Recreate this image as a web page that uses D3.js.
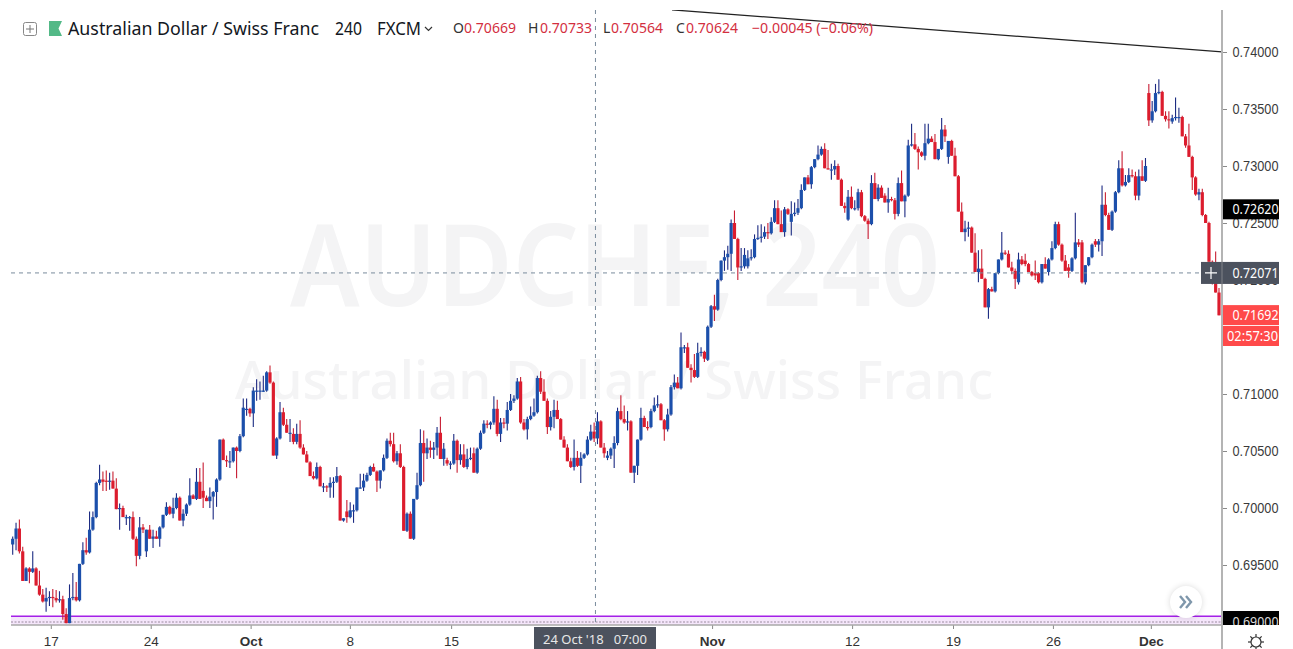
<!DOCTYPE html>
<html><head><meta charset="utf-8">
<style>html,body{margin:0;padding:0;background:#fff;overflow:hidden}svg{display:block;font-family:"Noto Sans",sans-serif}</style>
<script src="https://cdn.jsdelivr.net/npm/d3@7/dist/d3.min.js"></script>
</head><body>
<script>
// Prices in pips (6968 = 0.6968), one entry per 4-hour candle.
const opens=[6968,6973,6982,6962,6936,6947,6944,6947,6932,6924,6918,6921,6922,6921,6919,6920,6907,6899,6921,6922,6919,6951,6963,6961,6981,6992,7022,7025,7024,7023,7024,7017,6999,7000,6992,6992,6992,6973,6958,6983,6962,6981,6973,6975,6973,6983,6994,7001,6995,7000,7009,6989,6995,7003,7011,7008,7023,7015,7009,7006,7010,7014,7025,7060,7042,7041,7041,7053,7050,7063,7086,7087,7083,7103,7103,7103,7103,7119,7110,7046,7061,7084,7073,7066,7065,7058,7065,7053,7047,7040,7028,7026,
7036,7019,7019,7018,7022,7023,7028,6989,6997,6992,6998,6998,7018,7018,7024,7029,7036,7032,7024,7033,7044,7059,7056,7041,7048,7036,6980,6995,6973,7008,7020,7057,7048,7053,7051,7053,7066,7043,7042,7039,7039,7059,7042,7047,7036,7043,7048,7031,7052,7066,7074,7073,7075,7087,7065,7075,7074,7086,7094,7096,7111,7075,7069,7078,7081,7084,7114,7102,7094,7071,7080,7086,7078,7060,7053,7041,7036,7044,7037,7044,7047,7060,7067,7061,7076,7053,7044,7046,7052,7057,7085,7078,7075,7076,7031,7037,7060,7079,7071,7071,
7085,7090,7091,7077,7069,7082,7106,7110,7105,7141,7141,7123,7121,7115,7136,7137,7130,7159,7177,7174,7200,7217,7220,7223,7250,7236,7211,7212,7212,7219,7220,7236,7237,7238,7242,7241,7251,7263,7249,7242,7262,7251,7258,7259,7263,7279,7290,7284,7299,7306,7310,7315,7298,7297,7297,7300,7288,7265,7253,7273,7263,7263,7277,7256,7252,7249,7285,7271,7281,7274,7268,7271,7270,7258,7285,7269,7274,7318,7319,7315,7312,7309,7320,7324,7321,7306,7315,7332,7308,7322,7309,7291,7260,7242,7245,7246,7224,7207,7210,7201,7176,7192,7190,7206,
7218,7224,7223,7211,7208,7198,7218,7217,7214,7207,7206,7206,7198,7214,7207,7218,7228,7249,7231,7217,7211,7208,7219,7233,7233,7198,7213,7220,7234,7231,7234,7266,7257,7244,7260,7277,7298,7283,7286,7292,7291,7274,7291,7287,7364,7340,7348,7364,7365,7344,7341,7339,7342,7343,7343,7326,7318,7308,7290,7275,7277,7257,7250,7216,7198,7189];
const highs=[6975,6987,6990,6966,6948,6948,6962,6948,6945,6929,6930,6927,6929,6928,6927,6923,6912,6933,6943,6935,6951,6970,6974,6997,6997,7023,7038,7032,7033,7031,7032,7026,7004,7002,6994,6993,6997,6975,6992,6986,6981,6985,6981,6980,6984,6994,7005,7002,7009,7013,7010,6999,7004,7026,7012,7035,7035,7040,7011,7018,7015,7026,7060,7061,7046,7050,7053,7054,7065,7096,7096,7088,7106,7113,7111,7116,7120,7125,7111,7062,7093,7088,7078,7078,7070,7074,7077,7056,7050,7041,7032,7040,
7037,7022,7020,7027,7027,7036,7029,6991,7007,7005,7003,7018,7030,7030,7031,7037,7039,7033,7033,7047,7061,7066,7066,7050,7056,7037,6996,6997,7008,7031,7069,7068,7061,7059,7058,7071,7080,7057,7044,7041,7065,7060,7056,7056,7052,7053,7053,7053,7068,7077,7077,7076,7098,7095,7079,7079,7093,7100,7099,7114,7115,7078,7080,7089,7096,7116,7120,7113,7096,7085,7095,7094,7079,7063,7056,7044,7060,7050,7049,7048,7063,7073,7075,7084,7077,7057,7050,7053,7063,7088,7099,7090,7085,7077,7037,7060,7088,7081,7076,7087,
7097,7099,7092,7078,7087,7108,7117,7115,7154,7143,7145,7126,7135,7145,7141,7138,7160,7178,7187,7201,7217,7226,7230,7253,7261,7237,7228,7228,7226,7227,7240,7248,7249,7247,7250,7255,7270,7270,7261,7264,7263,7269,7268,7271,7284,7290,7292,7300,7306,7318,7317,7320,7314,7302,7305,7302,7289,7268,7279,7282,7270,7280,7279,7257,7254,7292,7294,7284,7283,7276,7281,7273,7272,7290,7296,7275,7323,7337,7329,7317,7313,7337,7337,7326,7328,7315,7342,7336,7322,7323,7316,7292,7268,7252,7251,7247,7241,7226,7227,7202,7193,7194,7206,7218,
7242,7226,7226,7216,7210,7224,7221,7223,7215,7208,7217,7207,7214,7220,7219,7234,7251,7251,7232,7222,7214,7220,7259,7236,7235,7213,7220,7232,7236,7236,7283,7277,7259,7261,7278,7305,7313,7292,7298,7297,7295,7297,7305,7307,7372,7357,7372,7376,7366,7348,7348,7345,7360,7351,7344,7328,7337,7309,7291,7280,7280,7258,7251,7217,7225,7193];
const lows=[6959,6963,6960,6936,6936,6934,6943,6932,6923,6917,6909,6914,6913,6917,6917,6902,6899,6899,6919,6918,6918,6950,6959,6960,6980,6991,7020,7015,7015,7016,7017,6999,6981,6992,6985,6980,6972,6949,6955,6978,6957,6973,6965,6973,6966,6982,6993,6994,6991,6999,6989,6984,6993,7002,7008,7007,7008,7000,7006,7000,6990,7001,7024,7042,7036,7035,7040,7026,7049,7062,7081,7080,7071,7094,7095,7102,7102,7109,7046,7043,7060,7072,7066,7058,7056,7056,7052,7047,7040,7028,7025,7025,
7019,7014,7014,7009,7009,7022,6989,6988,6987,6991,6987,6997,7017,7015,7023,7028,7032,7014,7017,7032,7043,7054,7040,7038,7035,6980,6979,6973,6972,7007,7019,7023,7043,7044,7043,7046,7043,7037,7037,7034,7038,7031,7038,7035,7034,7042,7031,7030,7051,7065,7070,7069,7073,7063,7058,7070,7068,7085,7092,7095,7074,7068,7060,7077,7080,7083,7100,7094,7065,7068,7070,7078,7060,7053,7041,7035,7033,7036,7022,7043,7046,7059,7058,7056,7053,7044,7042,7043,7035,7055,7077,7074,7068,7031,7022,7029,7059,7071,7068,7070,
7084,7088,7077,7059,7067,7081,7104,7105,7104,7136,7123,7110,7114,7114,7133,7128,7129,7158,7164,7173,7199,7208,7209,7208,7236,7200,7208,7210,7210,7217,7219,7235,7233,7236,7236,7240,7250,7249,7242,7238,7257,7239,7256,7257,7262,7278,7284,7280,7298,7305,7309,7298,7297,7288,7292,7288,7265,7259,7252,7262,7261,7261,7255,7251,7236,7248,7271,7269,7272,7268,7259,7269,7253,7256,7269,7255,7273,7317,7314,7297,7308,7305,7319,7321,7306,7305,7314,7321,7302,7309,7291,7260,7242,7234,7238,7224,7207,7198,7201,7176,7166,7190,7189,7205,
7217,7222,7211,7205,7192,7196,7213,7212,7207,7203,7200,7197,7197,7210,7204,7217,7227,7230,7216,7208,7202,7207,7218,7229,7197,7196,7212,7219,7229,7225,7221,7256,7244,7243,7259,7276,7282,7282,7285,7290,7270,7270,7287,7286,7335,7338,7347,7363,7344,7339,7333,7337,7340,7338,7326,7316,7308,7279,7274,7270,7256,7250,7216,7196,7189,7169];
const closes=[6973,6982,6962,6936,6947,6944,6947,6932,6924,6918,6921,6922,6921,6919,6920,6907,6899,6921,6922,6919,6951,6963,6961,6981,6992,7022,7025,7023,7023,7024,7017,6999,7000,6992,6992,6992,6973,6958,6983,6981,6981,6973,6975,6973,6983,6994,7001,6995,7000,7009,6989,6995,7003,7011,7008,7023,7008,7009,7006,7010,7014,7025,7060,7042,7041,7041,7053,7050,7063,7088,7087,7083,7103,7103,7103,7103,7119,7110,7046,7061,7084,7073,7066,7066,7058,7065,7053,7047,7040,7028,7026,7036,
7019,7019,7018,7022,7023,7028,6989,6991,6992,6998,6998,7018,7018,7024,7029,7036,7032,7024,7033,7044,7059,7056,7041,7048,7036,6980,6995,6973,7008,7020,7057,7048,7053,7051,7053,7066,7043,7052,7039,7039,7059,7042,7047,7036,7043,7044,7031,7052,7066,7074,7073,7075,7087,7065,7075,7074,7086,7094,7096,7111,7075,7069,7078,7081,7084,7114,7102,7094,7071,7080,7086,7078,7060,7053,7041,7036,7044,7037,7044,7047,7060,7067,7061,7076,7053,7048,7046,7052,7057,7085,7078,7075,7076,7031,7037,7060,7079,7071,7070,7085,
7090,7091,7077,7069,7082,7106,7110,7105,7141,7141,7123,7121,7115,7136,7137,7131,7159,7177,7174,7200,7217,7220,7223,7250,7236,7211,7212,7222,7219,7220,7236,7237,7238,7242,7241,7251,7263,7249,7242,7262,7258,7258,7259,7263,7279,7290,7284,7299,7306,7310,7315,7298,7297,7297,7300,7288,7265,7263,7273,7263,7263,7277,7256,7252,7249,7285,7271,7281,7272,7268,7271,7270,7258,7285,7269,7274,7318,7319,7315,7312,7309,7320,7324,7321,7306,7315,7332,7326,7322,7309,7291,7260,7242,7245,7246,7224,7207,7210,7201,7176,7192,7190,7206,7218,
7224,7223,7211,7208,7201,7218,7214,7214,7207,7204,7204,7198,7214,7210,7218,7228,7249,7231,7217,7208,7208,7219,7233,7231,7198,7213,7220,7231,7231,7234,7266,7257,7244,7260,7277,7298,7283,7286,7292,7291,7274,7291,7287,7300,7340,7348,7364,7365,7344,7341,7340,7342,7343,7343,7326,7318,7308,7290,7275,7277,7257,7250,7216,7198,7189,7169];

const priceTicks=[6900,6950,7000,7050,7100,7150,7200,7250,7300,7350,7400];
const dateTickIdx=[11.4,41.3,71.2,100.9,131.2,209.3,251.2,281.4,311.3,340.6];
const dateTickLabels=['17','24','Oct','8','15','Nov','12','19','26','Dec'];
const monthLabels=['Oct','Nov','Dec'];
const trendIdx=[197.3,362];
const trendPips=[7437,7400];
const supportPips=[6905,6900];     // purple band top and dotted level
const crossIdx=174.4, crossPips=7206.2;
const crossPriceLabel='0.72071', crossDateLabel="24 Oct '18   07:00";
const levelPips=7262, levelLabel='0.72620';
const lastPips=7169.2, lastLabel='0.71692', countdown='02:57:30';
const legendName='Australian Dollar / Swiss Franc', legendRes='240', legendSrc='FXCM';
const legendOHLC=[['O','0.70669',453,464],['H','0.70733',528,540],['L','0.70564',603,611],['C','0.70624',676,686]];
const legendChange='\u22120.00045 (\u22120.06%)';
const wm1='AUDCHF, 240', wm2='Australian Dollar / Swiss Franc';

const W=1279,H=649,plotL=11,plotR=1222,plotT=10,axisY=625;
const x=d3.scaleLinear().domain([0,361]).range([12.7,1219]);
const y=d3.scaleLinear().domain([6900,7400]).range([622,52]);
const svg=d3.select('body').append('svg').attr('width',W).attr('height',H);
const defs=svg.append('defs');
defs.append('clipPath').attr('id','plot').append('rect').attr('x',plotL).attr('y',plotT).attr('width',plotR-plotL).attr('height',axisY-plotT);
defs.append('clipPath').attr('id','yax').append('rect').attr('x',plotR).attr('y',0).attr('width',W-plotR).attr('height',axisY);
defs.append('filter').attr('id','soft').attr('x','-5%').attr('y','-5%').attr('width','110%').attr('height','110%').append('feGaussianBlur').attr('stdDeviation',0.45);
const sh=defs.append('filter').attr('id','sh').attr('x','-50%').attr('y','-50%').attr('width','200%').attr('height','200%');
sh.append('feGaussianBlur').attr('stdDeviation',3);

// watermark
const wmColor='#f4f4f5';
svg.append('text').attr('x',290).attr('y',306).attr('textLength',650).attr('lengthAdjust','spacingAndGlyphs').attr('font-size',114).attr('font-weight',600).attr('fill',wmColor).text(wm1);
svg.append('text').attr('x',235).attr('y',399).attr('textLength',758).attr('lengthAdjust','spacingAndGlyphs').attr('font-size',53).attr('font-weight',500).attr('fill',wmColor).text(wm2);

const plot=svg.append('g').attr('clip-path','url(#plot)');
// support band
plot.append('rect').attr('x',plotL).attr('width',plotR-plotL).attr('y',y(supportPips[0])).attr('height',axisY-y(supportPips[0])).attr('fill','#f5e6fb');
plot.append('line').attr('x1',plotL).attr('x2',plotR).attr('y1',y(supportPips[0])).attr('y2',y(supportPips[0])).attr('stroke','#a41fe8').attr('stroke-width',1.6);
plot.append('line').attr('x1',plotL).attr('x2',plotR).attr('y1',y(supportPips[1])).attr('y2',y(supportPips[1])).attr('stroke','#9a8a9e').attr('stroke-width',1.2).attr('stroke-dasharray','2 1.5');

// candles
const up='#1b50ab',down='#dc1f2e',upWick='#1c2a82',downWick='#c81e32';
const idx=d3.range(opens.length);
const cg=plot.append('g').attr('filter','url(#soft)');
cg.selectAll('line.w').data(idx).join('line').attr('class','w')
  .attr('x1',i=>x(i)).attr('x2',i=>x(i)).attr('y1',i=>y(highs[i])).attr('y2',i=>y(lows[i]))
  .attr('stroke',i=>closes[i]>=opens[i]?upWick:downWick).attr('stroke-width',1.1);
cg.selectAll('rect.b').data(idx).join('rect').attr('class','b')
  .attr('x',i=>x(i)-1.6).attr('width',3.2)
  .attr('y',i=>y(Math.max(opens[i],closes[i])))
  .attr('height',i=>Math.max(1.2,Math.abs(y(opens[i])-y(closes[i]))))
  .attr('fill',i=>closes[i]>=opens[i]?up:down);

// trend line
plot.append('path').attr('d',d3.line().x((d,i)=>x(trendIdx[i])).y(d=>y(d))(trendPips)).attr('stroke','#222').attr('stroke-width',1.2).attr('fill','none');

// crosshair
const dash='#7a8c9c';
svg.append('line').attr('x1',x(crossIdx)).attr('x2',x(crossIdx)).attr('y1',plotT).attr('y2',axisY).attr('stroke',dash).attr('stroke-dasharray','4 4');
svg.append('line').attr('x1',plotL).attr('x2',plotR).attr('y1',y(crossPips)).attr('y2',y(crossPips)).attr('stroke',dash).attr('stroke-dasharray','4 4');

// axes
const ax=svg.append('g').attr('clip-path','url(#yax)').append('g').attr('transform',`translate(${plotR},0)`)
  .call(d3.axisRight(y).tickValues(priceTicks).tickSize(5).tickPadding(5.5).tickFormat(d=>(d/10000).toFixed(5)));
ax.select('.domain').remove();
ax.selectAll('line').attr('stroke','#8a8a8a');
ax.selectAll('text').attr('font-size',14).attr('textLength',46).attr('lengthAdjust','spacingAndGlyphs').attr('fill','#3a3a3a');
const bx=svg.append('g').attr('transform',`translate(0,${axisY})`)
  .call(d3.axisBottom(x).tickValues(dateTickIdx).tickSize(4).tickPadding(7).tickFormat((d,i)=>dateTickLabels[i]));
bx.select('.domain').remove();
bx.selectAll('line').attr('stroke','#8a8a8a');
bx.selectAll('text').attr('font-size',13.5).attr('fill','#333').attr('font-weight',(d,i)=>monthLabels.includes(dateTickLabels[i])?600:400);
svg.append('line').attr('x1',plotL).attr('x2',plotR+1).attr('y1',axisY).attr('y2',axisY).attr('stroke','#a8a8a8').attr('stroke-width',1.6);
svg.append('line').attr('x1',plotR).attr('x2',plotR).attr('y1',plotT).attr('y2',H).attr('stroke','#b4b4b4').attr('stroke-width',2);

// price tags
function tagText(tx,py,label,fg,len){
  return svg.append('text').attr('x',tx).attr('y',py).attr('dy','0.35em').attr('font-size',14).attr('textLength',len).attr('lengthAdjust','spacingAndGlyphs').attr('fill',fg).text(label);
}
function tag(py,h,x0,fill,label,fg){
  svg.append('rect').attr('x',x0).attr('y',py-h/2).attr('width',W-x0).attr('height',h).attr('fill',fill);
  tagText(1232.5,py,label,fg,46);
}
svg.append('rect').attr('x',plotR+1).attr('y',611).attr('width',W-plotR).attr('height',14).attr('fill','#000');
svg.append('g').attr('clip-path','url(#yax)').append('text').attr('x',1232.5).attr('y',y(6900)).attr('dy','0.35em').attr('font-size',14).attr('textLength',46).attr('lengthAdjust','spacingAndGlyphs').attr('fill','#ddd').text('0.69000');
tag(y(levelPips),20,plotR+1,'#000',levelLabel,'#fff');
tag(y(crossPips),22,plotR-21,'#4c525e',crossPriceLabel,'#fff');
svg.append('path').attr('d',`M${plotR-17} ${y(crossPips)}h12M${plotR-11} ${y(crossPips)-6}v12`).attr('stroke','#fff').attr('stroke-width',1.2);
svg.append('line').attr('x1',plotR).attr('x2',plotR).attr('y1',y(crossPips)-11).attr('y2',y(crossPips)+11).attr('stroke','#b4b4b4').attr('stroke-opacity',.5);
tag(y(lastPips),20,plotR+1,'#ff4a4a',lastLabel,'#fff');
svg.append('rect').attr('x',plotR+1).attr('y',326).attr('width',W-plotR).attr('height',20).attr('fill','#ff4a4a');
tagText(1227,336,countdown,'#fff',51);

// date tag
svg.append('rect').attr('x',534).attr('y',627).attr('width',122).attr('height',22).attr('fill','#4c525e');
svg.append('text').attr('x',595).attr('y',639).attr('dy','0.35em').attr('text-anchor','middle').attr('font-size',13).attr('fill','#e8e8e8').style('white-space','pre').text(crossDateLabel);

// scroll button
svg.append('circle').attr('cx',1186).attr('cy',602).attr('r',16).attr('fill','#000').attr('opacity',.14).attr('filter','url(#sh)');
svg.append('circle').attr('cx',1186).attr('cy',602).attr('r',16).attr('fill','#fff');
svg.append('path').attr('d','M1180 596l5 6l-5 6M1186 596l5 6l-5 6').attr('fill','none').attr('stroke','#7f97ab').attr('stroke-width',2.4);

// gear
const gear=svg.append('g').attr('transform','translate(1256,642)').attr('stroke','#333').attr('fill','none').attr('stroke-width',1.2);
gear.append('circle').attr('r',5);
d3.range(8).forEach(k=>{const a=k*Math.PI/4;gear.append('line').attr('x1',5*Math.cos(a)).attr('y1',5*Math.sin(a)).attr('x2',8*Math.cos(a)).attr('y2',8*Math.sin(a));});

// legend
const ly=28.5;
svg.append('rect').attr('x',23.5).attr('y',22.5).attr('width',13).attr('height',13).attr('rx',2).attr('fill','#fff').attr('stroke','#888');
svg.append('path').attr('d','M26 29h8M30 25v8').attr('stroke','#777');
svg.append('path').attr('d','M49 21h13l-3.5 7.5l3.5 7.5h-13z').attr('fill','#53b987');
function lt(tx,len,s,fill,fs){const t=svg.append('text').attr('x',tx).attr('y',ly).attr('dy','0.35em').attr('font-size',fs||17.5).attr('fill',fill).text(s);if(len)t.attr('textLength',len).attr('lengthAdjust','spacingAndGlyphs');return t;}
lt(68,251,legendName,'#131722');
lt(335,27,legendRes,'#131722');
lt(377,44,legendSrc,'#131722');
svg.append('path').attr('d','M425 27l3.5 3.5l3.5-3.5').attr('fill','none').attr('stroke','#333').attr('stroke-width',1.2);
legendOHLC.forEach(r=>{lt(r[2],0,r[0],'#333',14);lt(r[3],52,r[1],'#d32f3f',14);});
lt(752,121,legendChange,'#d32f3f',14);
</script>
</body></html>
